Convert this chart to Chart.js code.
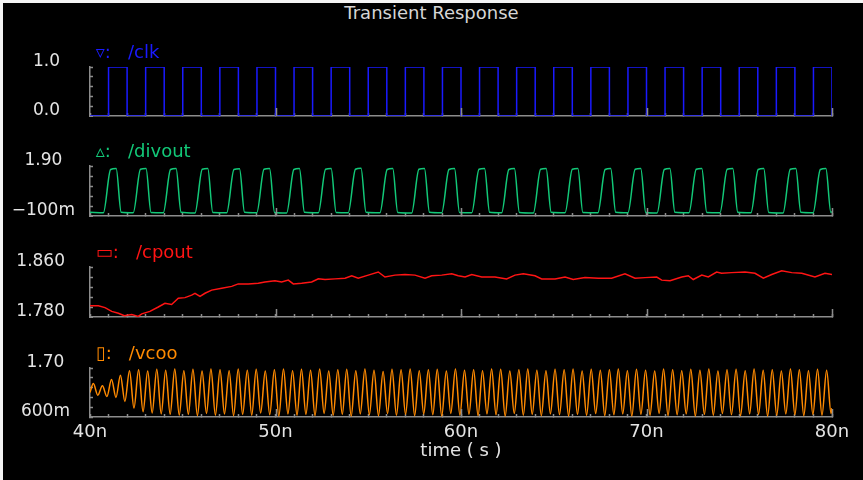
<!DOCTYPE html>
<html>
<head>
<meta charset="utf-8">
<title>Transient Response</title>
<script src="https://cdn.jsdelivr.net/npm/chart.js@4.4.0/dist/chart.umd.min.js"></script>
<style>
  html, body { margin: 0; padding: 0; background: #000; }
  #wrap { position: relative; width: 863px; height: 480px; background: #000; overflow: hidden; }
  #title { position: absolute; left: 0; top: 2px; width: 863px; text-align: center; color: #d6d6d6; font: 18px "DejaVu Sans"; }
  .edge { position: absolute; background: #f4f4f4; }
  canvas { position: absolute; left: 0; }
</style>
</head>
<body>
<div id="wrap">
  <div id="title">Transient Response</div>
  <canvas id="clkChart" width="863" height="74" style="top:43px"></canvas>
  <canvas id="divChart" width="863" height="75" style="top:142px"></canvas>
  <canvas id="cpChart" width="863" height="75" style="top:243px"></canvas>
  <canvas id="vcoChart" width="863" height="124" style="top:344px"></canvas>
  <div class="edge" style="left:0;top:0;width:863px;height:3px"></div>
  <div class="edge" style="left:0;top:0;width:3px;height:480px"></div>
</div>
<script>
const AXIS = "#8c8c8c";
const TEXT = "#e4e4e4";
const FONT = "DejaVu Sans";

// time axis, ns
const timeMin = 40;
const timeMax = 80;
const timeLabels = ["40n", "50n", "60n", "70n", "80n"];

// /clk (stepped)
const clkT = [40, 41, 42, 43, 44, 45, 46, 47, 48, 49, 50, 51, 52, 53, 54, 55, 56, 57, 58, 59, 60,
  61, 62, 63, 64, 65, 66, 67, 68, 69, 70, 71, 72, 73, 74, 75, 76, 77, 78, 79, 80];
const clkV = [0, 1, 0, 1, 0, 1, 0, 1, 0, 1, 0, 1, 0, 1, 0, 1, 0, 1, 0, 1, 0,
  1, 0, 1, 0, 1, 0, 1, 0, 1, 0, 1, 0, 1, 0, 1, 0, 1, 0, 1, 0];
const clkLabels = ["0.0", "1.0"];

// /divout
const divT = [40.00,
  40.72, 41.11, 41.41, 41.68, 42.33, 42.72, 43.02, 43.29,
  43.95, 44.34, 44.64, 44.91, 45.66, 46.05, 46.35, 46.62,
  47.37, 47.76, 48.06, 48.33, 48.99, 49.38, 49.68, 49.95,
  50.60, 50.99, 51.29, 51.56, 52.31, 52.70, 53.00, 53.27,
  53.92, 54.31, 54.61, 54.88, 55.63, 56.02, 56.32, 56.59,
  57.34, 57.73, 58.03, 58.30, 58.96, 59.35, 59.65, 59.92,
  60.58, 60.97, 61.27, 61.54, 62.19, 62.58, 62.88, 63.15,
  63.90, 64.29, 64.59, 64.86, 65.61, 66.00, 66.30, 66.57,
  67.38, 67.77, 68.07, 68.34, 69.00, 69.39, 69.69, 69.96,
  70.57, 70.96, 71.26, 71.53, 72.29, 72.68, 72.98, 73.25,
  73.96, 74.35, 74.65, 74.92, 75.63, 76.02, 76.32, 76.59,
  77.36, 77.75, 78.05, 78.32, 78.98, 79.37, 79.67, 79.94,
  80.00];
const divV = [0.05,
  0.03, 1.76, 1.80, 0.05, 0.03, 1.77, 1.80, 0.04,
  0.03, 1.76, 1.80, 0.05, 0.02, 1.77, 1.80, 0.04,
  0.03, 1.76, 1.79, 0.05, 0.03, 1.77, 1.80, 0.04,
  0.02, 1.76, 1.80, 0.05, 0.03, 1.77, 1.80, 0.04,
  0.03, 1.77, 1.81, 0.05, 0.03, 1.76, 1.80, 0.04,
  0.02, 1.77, 1.80, 0.05, 0.03, 1.76, 1.80, 0.04,
  0.03, 1.77, 1.80, 0.05, 0.03, 1.76, 1.80, 0.04,
  0.02, 1.77, 1.80, 0.05, 0.03, 1.77, 1.80, 0.04,
  0.03, 1.76, 1.80, 0.05, 0.03, 1.77, 1.80, 0.04,
  0.02, 1.76, 1.80, 0.05, 0.03, 1.77, 1.80, 0.04,
  0.03, 1.77, 1.80, 0.05, 0.03, 1.76, 1.80, 0.04,
  0.02, 1.77, 1.80, 0.05, 0.03, 1.76, 1.80, 0.04,
  0.08];
const divLabels = ["\u2212100m", "1.90"];

// /cpout
const cpT = [40.00, 40.45, 40.81, 41.17, 41.53, 41.85, 42.25, 42.60, 42.79, 43.23,
  43.68, 44.04, 44.40, 44.76, 45.12, 45.48, 45.66, 45.93, 46.20, 46.56,
  47.10, 47.64, 47.99, 48.53, 49.07, 49.43, 49.97, 50.33, 50.69, 50.96,
  51.41, 51.95, 52.31, 52.67, 53.21, 53.75, 54.11, 54.46, 55.00, 55.54,
  55.90, 56.44, 56.98, 57.52, 58.06, 58.42, 58.96, 59.50, 59.85, 60.22,
  60.58, 61.12, 61.83, 62.46, 62.91, 63.36, 63.99, 64.35, 65.07, 65.61,
  66.05, 66.68, 67.40, 68.12, 68.84, 69.38, 69.92, 70.55, 70.82, 71.27,
  71.90, 72.25, 72.52, 72.98, 73.33, 73.78, 74.05, 74.59, 75.31, 75.85,
  76.30, 76.75, 77.29, 77.83, 78.37, 79.08, 79.62, 80.00];
const cpV = [1.798, 1.798, 1.795, 1.789, 1.786, 1.782, 1.784, 1.781, 1.785, 1.789,
  1.796, 1.802, 1.800, 1.810, 1.811, 1.815, 1.818, 1.813, 1.818, 1.823,
  1.826, 1.829, 1.833, 1.833, 1.834, 1.836, 1.838, 1.836, 1.839, 1.833,
  1.834, 1.836, 1.841, 1.840, 1.841, 1.842, 1.846, 1.842, 1.847, 1.852,
  1.844, 1.847, 1.848, 1.847, 1.842, 1.846, 1.847, 1.849, 1.846, 1.844,
  1.848, 1.844, 1.844, 1.841, 1.847, 1.849, 1.846, 1.841, 1.841, 1.844,
  1.840, 1.843, 1.842, 1.842, 1.849, 1.842, 1.843, 1.844, 1.839, 1.838,
  1.844, 1.846, 1.840, 1.847, 1.844, 1.852, 1.850, 1.851, 1.852, 1.850,
  1.842, 1.848, 1.854, 1.851, 1.850, 1.844, 1.850, 1.848];
const cpLabels = ["1.780", "1.860"];

// /vcoo, peaks and troughs
const vcoT = [40.00,
  40.18, 40.42, 40.67, 40.91, 41.16, 41.40, 41.64, 41.88, 42.13, 42.37,
  42.62, 42.86, 43.11, 43.35, 43.60, 43.84, 44.08, 44.32, 44.57, 44.81,
  45.06, 45.30, 45.55, 45.79, 46.04, 46.28, 46.52, 46.76, 47.01, 47.25,
  47.50, 47.74, 47.99, 48.23, 48.48, 48.72, 48.96, 49.20, 49.45, 49.69,
  49.94, 50.18, 50.43, 50.67, 50.92, 51.16, 51.40, 51.64, 51.89, 52.13,
  52.38, 52.62, 52.87, 53.11, 53.36, 53.60, 53.84, 54.08, 54.33, 54.57,
  54.82, 55.06, 55.31, 55.55, 55.80, 56.04, 56.28, 56.52, 56.77, 57.01,
  57.26, 57.50, 57.75, 57.99, 58.24, 58.48, 58.72, 58.96, 59.21, 59.45,
  59.70, 59.94, 60.19, 60.43, 60.68, 60.92, 61.16, 61.40, 61.65, 61.89,
  62.14, 62.38, 62.63, 62.87, 63.12, 63.36, 63.60, 63.84, 64.09, 64.33,
  64.58, 64.82, 65.07, 65.31, 65.56, 65.80, 66.04, 66.28, 66.53, 66.77,
  67.02, 67.26, 67.51, 67.75, 68.00, 68.24, 68.48, 68.72, 68.97, 69.21,
  69.46, 69.70, 69.95, 70.19, 70.44, 70.68, 70.92, 71.16, 71.41, 71.65,
  71.90, 72.14, 72.39, 72.63, 72.88, 73.12, 73.36, 73.60, 73.85, 74.09,
  74.34, 74.58, 74.83, 75.07, 75.32, 75.56, 75.80, 76.04, 76.29, 76.53,
  76.78, 77.02, 77.27, 77.51, 77.76, 78.00, 78.24, 78.48, 78.73, 78.97,
  79.22, 79.46, 79.71, 79.95,
  80.00];
const vcoV = [1.15,
  1.35, 1.09, 1.30, 1.06, 1.44, 1.04, 1.54, 0.95, 1.64, 0.80,
  1.66, 0.72, 1.63, 0.69, 1.67, 0.67, 1.65, 0.66, 1.68, 0.64,
  1.64, 0.66, 1.67, 0.63, 1.63, 0.68, 1.68, 0.64, 1.66, 0.67,
  1.64, 0.63, 1.68, 0.66, 1.65, 0.64, 1.67, 0.69, 1.63, 0.65,
  1.66, 0.62, 1.68, 0.67, 1.64, 0.64, 1.67, 0.66, 1.65, 0.63,
  1.68, 0.68, 1.63, 0.64, 1.66, 0.66, 1.67, 0.62, 1.64, 0.67,
  1.68, 0.65, 1.65, 0.63, 1.62, 0.68, 1.67, 0.64, 1.66, 0.66,
  1.68, 0.63, 1.64, 0.67, 1.66, 0.65, 1.67, 0.62, 1.63, 0.68,
  1.68, 0.64, 1.65, 0.66, 1.66, 0.63, 1.64, 0.67, 1.68, 0.65,
  1.67, 0.62, 1.63, 0.68, 1.66, 0.64, 1.68, 0.66, 1.65, 0.63,
  1.64, 0.67, 1.67, 0.65, 1.66, 0.62, 1.68, 0.66, 1.63, 0.64,
  1.67, 0.68, 1.65, 0.63, 1.66, 0.65, 1.68, 0.67, 1.64, 0.62,
  1.67, 0.66, 1.65, 0.64, 1.63, 0.68, 1.68, 0.63, 1.66, 0.65,
  1.64, 0.67, 1.67, 0.62, 1.65, 0.66, 1.68, 0.64, 1.63, 0.68,
  1.66, 0.65, 1.67, 0.63, 1.64, 0.67, 1.68, 0.66, 1.65, 0.62,
  1.66, 0.64, 1.63, 0.67, 1.68, 0.65, 1.66, 0.63, 1.64, 0.66,
  1.67, 0.64, 1.65, 0.68,
  0.80];
const vcoLabels = ["600m", "1.70"];

// taller tick marks every 10n on the time axis
const majorTicks = {
  id: "majorTicks",
  afterDraw(chart) {
    const { ctx, chartArea } = chart;
    const x = chart.scales.x;
    ctx.save();
    ctx.strokeStyle = AXIS;
    ctx.lineWidth = 1.5;
    for (let v = timeMin + 10; v <= timeMax; v += 10) {
      const px = Math.round(x.getPixelForValue(v)) + 0.5;
      ctx.beginPath();
      ctx.moveTo(px, chartArea.bottom);
      ctx.lineTo(px, chartArea.bottom - 8);
      ctx.stroke();
    }
    ctx.restore();
  },
};

function makePanel(id, p) {
  const points = p.t.map((t, i) => ({ x: t, y: p.v[i] }));
  return new Chart(document.getElementById(id), {
    type: "line",
    data: {
      datasets: [
        {
          label: p.name,
          data: points,
          borderColor: p.color,
          borderWidth: 1.5,
          pointRadius: 0,
          tension: 0,
          cubicInterpolationMode: p.smooth ? "monotone" : "default",
          stepped: p.stepped || false,
        },
      ],
    },
    options: {
      responsive: false,
      animation: false,
      events: [],
      layout: { padding: { left: 0, right: 31, top: 0, bottom: 1 } },
      plugins: {
        legend: { display: false },
        tooltip: { enabled: false },
        title: {
          display: true,
          text: " " + p.marker + ":   " + p.name,
          align: "start",
          fullSize: false,
          color: p.color,
          font: { family: FONT, size: 18, weight: "normal", lineHeight: "20px" },
          padding: { top: 0, bottom: 4 },
        },
      },
      scales: {
        x: {
          type: "linear",
          min: timeMin,
          max: timeMax,
          afterFit: (s) => {
            s.height = p.showTime ? 50 : 0;
            s.paddingLeft = 0;
            s.paddingRight = 0;
          },
          border: { color: AXIS, width: 1.5 },
          grid: { drawOnChartArea: false, color: AXIS, tickLength: -3, tickWidth: 1.5 },
          ticks: {
            display: !!p.showTime,
            stepSize: 1,
            autoSkip: false,
            maxRotation: 0,
            padding: 8,
            color: TEXT,
            font: { family: FONT, size: 18 },
            callback: (v) => (v % 10 === 0 ? timeLabels[(v - timeMin) / 10] : ""),
          },
          title: {
            display: !!p.showTime,
            text: "time ( s )",
            color: TEXT,
            font: { family: FONT, size: 18 },
            padding: { top: 0, bottom: 5 },
          },
        },
        y: {
          min: p.yMin,
          max: p.yMax,
          afterFit: (s) => {
            s.width = 90;
            s.paddingTop = 0;
            s.paddingBottom = 0;
          },
          border: { color: AXIS, width: 1.5 },
          grid: { drawOnChartArea: false, color: AXIS, tickLength: -3, tickWidth: 1.5 },
          ticks: {
            count: 6,
            autoSkip: false,
            crossAlign: "center",
            padding: p.labelPad,
            labelOffset: -5,
            color: TEXT,
            font: { family: FONT, size: 17 },
            callback: (v, i, ticks) =>
              i === 0 ? p.labels[0] : i === ticks.length - 1 ? p.labels[1] : "",
          },
        },
      },
    },
    plugins: [majorTicks],
  });
}

makePanel("clkChart", {
  name: "/clk", marker: "\u25BF", color: "#1a1aff",
  t: clkT, v: clkV, stepped: true,
  yMin: 0, yMax: 1.0, labels: clkLabels, labelPad: 33,
});
makePanel("divChart", {
  name: "/divout", marker: "\u25B5", color: "#12c878",
  t: divT, v: divV, smooth: true,
  yMin: -0.1, yMax: 1.9, labels: divLabels, labelPad: 18,
});
makePanel("cpChart", {
  name: "/cpout", marker: "\u25AD", color: "#ff1414",
  t: cpT, v: cpV,
  yMin: 1.78, yMax: 1.86, labels: cpLabels, labelPad: 28,
});
makePanel("vcoChart", {
  name: "/vcoo", marker: "\u25AF", color: "#ff8a00",
  t: vcoT, v: vcoV, smooth: true,
  yMin: 0.6, yMax: 1.7, labels: vcoLabels, labelPad: 23, showTime: true,
});
</script>
</body>
</html>
